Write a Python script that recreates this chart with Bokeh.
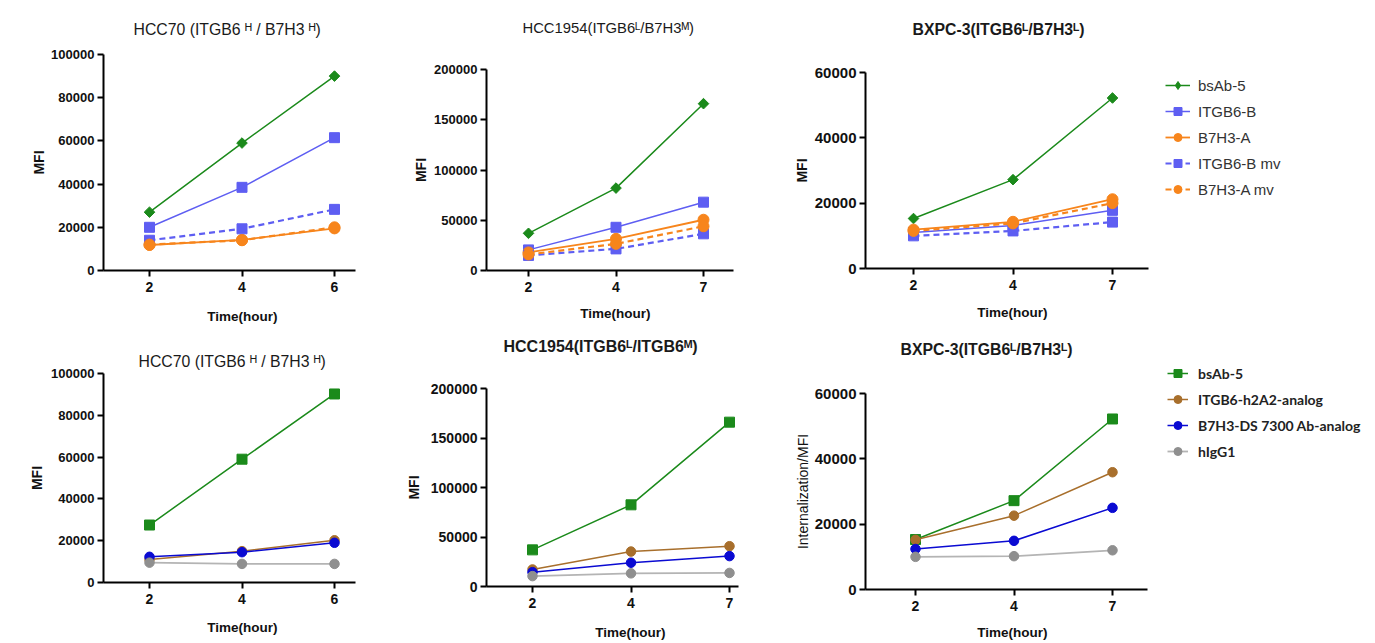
from bokeh.plotting import figure
from bokeh.models import (FixedTicker, NumeralTickFormatter, Range1d, Legend,
                          LegendItem, ColumnDataSource, Title)
from bokeh.layouts import row, column
from bokeh.embed import file_html
from bokeh.resources import INLINE
import math

# ---------------- data ----------------
time_labels_hcc70 = ["2", "4", "6"]
time_labels_hcc1954 = ["2", "4", "7"]
time_labels_bxpc3 = ["2", "4", "7"]

top_names = ["bsAb-5", "ITGB6-B", "B7H3-A", "ITGB6-B mv", "B7H3-A mv"]
bottom_names = ["bsAb-5", "ITGB6-h2A2-analog", "B7H3-DS 7300 Ab-analog", "hIgG1"]

# top-left: HCC70
hcc70_top_bsab5 = [27000, 59000, 90000]
hcc70_top_itgb6b = [20000, 38500, 61500]
hcc70_top_b7h3a = [11800, 14200, 19500]
hcc70_top_itgb6b_mv = [14000, 19300, 28300]
hcc70_top_b7h3a_mv = [12000, 14000, 20000]

# top-middle: HCC1954
hcc1954_top_bsab5 = [37000, 82000, 166000]
hcc1954_top_itgb6b = [20500, 43000, 68000]
hcc1954_top_b7h3a = [18000, 31500, 50500]
hcc1954_top_itgb6b_mv = [15000, 21500, 36500]
hcc1954_top_b7h3a_mv = [16000, 26500, 44000]

# top-right: BXPC-3
bxpc3_top_bsab5 = [15300, 27200, 52200]
bxpc3_top_itgb6b = [11000, 13200, 17800]
bxpc3_top_b7h3a = [11900, 14300, 21200]
bxpc3_top_itgb6b_mv = [10000, 11500, 14200]
bxpc3_top_b7h3a_mv = [11500, 13800, 20000]

# bottom-left: HCC70
hcc70_bot_bsab5 = [27500, 59000, 90200]
hcc70_bot_h2a2 = [11000, 15000, 20200]
hcc70_bot_ds7300 = [12300, 14500, 19000]
hcc70_bot_higg1 = [9500, 8900, 8900]

# bottom-middle: HCC1954
hcc1954_bot_bsab5 = [37000, 82500, 166000]
hcc1954_bot_h2a2 = [17200, 35300, 40700]
hcc1954_bot_ds7300 = [14500, 24000, 30700]
hcc1954_bot_higg1 = [10500, 13300, 13700]

# bottom-right: BXPC-3
bxpc3_bot_bsab5 = [15300, 27200, 52200]
bxpc3_bot_h2a2 = [15200, 22600, 35900]
bxpc3_bot_ds7300 = [12400, 14900, 25000]
bxpc3_bot_higg1 = [10000, 10200, 12000]

# ---------------- styles ----------------
GREEN = "#1b8a1b"
VIOLET = "#5e5ef2"
ORANGE = "#f7851c"
BROWN = "#a86f2c"
DBLUE = "#0a0ad2"
GRAY_M = "#8f8f8f"
GRAY_L = "#b4b4b4"

top_styles = [
    dict(color=GREEN, lcolor=GREEN, marker="square", size=7.5, angle=math.pi / 4,
         legend_marker="diamond", legend_size=11, dash="solid", lw=1.5),
    dict(color=VIOLET, lcolor=VIOLET, marker="square", size=10, angle=0, dash="solid", lw=1.5),
    dict(color=ORANGE, lcolor=ORANGE, marker="circle", size=11, angle=0, dash="solid", lw=1.8),
    dict(color=VIOLET, lcolor=VIOLET, marker="square", size=10, angle=0, dash="6 4", lw=2.2),
    dict(color=ORANGE, lcolor=ORANGE, marker="circle", size=11, angle=0, dash="6 4", lw=2.2),
]
bottom_styles = [
    dict(color=GREEN, lcolor=GREEN, marker="square", size=10, angle=0, dash="solid", lw=1.5),
    dict(color=BROWN, lcolor=BROWN, marker="circle", size=9.5, angle=0, dash="solid", lw=1.5),
    dict(color=DBLUE, lcolor=DBLUE, marker="circle", size=9.5, angle=0, dash="solid", lw=1.5),
    dict(color=GRAY_M, lcolor=GRAY_L, marker="circle", size=9.5, angle=0, dash="solid", lw=1.8),
]

FONT = "Liberation Sans"
XLABEL = "Time(hour)"
XLABEL_SIZE = 13.5
XLABEL_W = 5.222 * XLABEL_SIZE  # approx. rendered width of "Time(hour)" in bold


def spacer(gap):
    return Title(text=" ", text_font_size="1px", standoff=max(gap - 1, 0))


def panel(g, title, tstyle, tsize, tpos, xlabels, series, styles,
          ylabel, ylstyle, ylsize, ylstandoff, xlpos, ytop, ystep, ytsize):
    pxper = (g["tick2"] - g["tick0"]) / 2.0

    def px2x(px):
        return (px - g["tick0"]) / pxper

    p = figure(
        frame_width=g["fr"] - g["fl"], frame_height=g["y0"] - g["ft"],
        min_border_left=g["fl"] - g["fx"],
        min_border_right=g["fx"] + g["fw"] - g["fr"],
        min_border_top=g["ft"] - g["fy"],
        min_border_bottom=g["fy"] + g["fh"] - g["y0"],
        x_range=Range1d(px2x(g["fl"]), px2x(g["fr"])), y_range=Range1d(0, ytop),
        output_backend="svg", toolbar_location=None, title_location=None,
    )
    p.outline_line_color = None
    p.background_fill_color = "white"
    p.border_fill_color = "white"
    p.xgrid.grid_line_color = None
    p.ygrid.grid_line_color = None

    xs = list(range(len(xlabels)))
    for vals, st in zip(series, styles):
        src = ColumnDataSource(dict(x=xs, y=vals))
        p.line("x", "y", source=src, line_color=st["lcolor"],
               line_width=st["lw"], line_dash=st["dash"])
        p.scatter("x", "y", source=src, marker=st["marker"], size=st["size"],
                  angle=st["angle"], fill_color=st["color"], line_color=st["color"])

    for ax in (p.xaxis[0], p.yaxis[0]):
        ax.axis_line_width = 2
        ax.axis_line_color = "black"
        ax.major_tick_line_width = 2
        ax.major_tick_line_color = "black"
        ax.major_tick_out = 6
        ax.major_tick_in = 0
        ax.minor_tick_line_color = None
        ax.major_label_text_font = FONT
        ax.major_label_text_font_style = "bold"
        ax.major_label_text_color = "#111111"

    xa = p.xaxis[0]
    xa.ticker = FixedTicker(ticks=xs)
    xa.major_label_overrides = {i: lab for i, lab in enumerate(xlabels)}
    xa.major_label_text_font_size = "14px"
    xa.major_label_standoff = 5
    xa.bounds = (px2x(g["fl"]), px2x(g["axend"]))

    ya = p.yaxis[0]
    ya.ticker = FixedTicker(ticks=list(range(0, ytop + 1, ystep)))
    ya.formatter = NumeralTickFormatter(format="0")
    ya.major_label_text_font_size = f"{ytsize}px"
    ya.major_label_standoff = 3
    ya.axis_label = ylabel
    ya.axis_label_text_font = FONT
    ya.axis_label_text_font_style = ylstyle
    ya.axis_label_text_font_size = f"{ylsize}px"
    ya.axis_label_text_color = "#111111"
    ya.axis_label_standoff = ylstandoff

    # panel title: (left x, centre y) in page pixels
    t_bottom = tpos[1] + 0.575 * tsize
    p.add_layout(spacer(g["ft"] - t_bottom), "above")
    p.add_layout(Title(text=title, text_font=FONT, text_font_size=f"{tsize}px",
                       text_font_style=tstyle, text_color="#1a1a1a",
                       align="left", offset=tpos[0] - g["fl"], standoff=0,
                       vertical_align="bottom"), "above")

    # x axis title: (centre x, centre y) in page pixels
    x_top = xlpos[1] - 0.55 * XLABEL_SIZE
    axis_h = 6 + 5 + 16
    p.add_layout(spacer(x_top - (g["y0"] + axis_h)), "below")
    p.add_layout(Title(text=XLABEL, text_font=FONT, text_font_size=f"{XLABEL_SIZE}px",
                       text_font_style="bold", text_color="#111111",
                       align="left", offset=xlpos[0] - XLABEL_W / 2 - g["fl"],
                       standoff=0, vertical_align="top"), "below")
    return p


def legend_fig(w, h, names, series, styles, gx, top, spacing, gw, standoff,
               font, fstyle, fsize, color):
    # legend-only figure; its renderers use real data but lie outside its ranges
    p = figure(frame_width=w, frame_height=h, min_border=0,
               x_range=Range1d(100, 101), y_range=Range1d(0, 1),
               x_axis_type=None, y_axis_type=None,
               output_backend="svg", toolbar_location=None, title_location=None)
    p.outline_line_color = None
    p.background_fill_color = "white"
    p.border_fill_color = "white"
    p.grid.visible = False
    items = []
    for n, vals, st in zip(names, series, styles):
        src = ColumnDataSource(dict(x=list(range(len(vals))), y=vals))
        ln = p.line("x", "y", source=src, line_color=st["lcolor"], line_width=st["lw"],
                    line_dash=st["dash"])
        sc = p.scatter("x", "y", source=src, marker=st.get("legend_marker", st["marker"]),
                       size=st.get("legend_size", st["size"]),
                       fill_color=st["color"], line_color=st["color"])
        items.append(LegendItem(label=n, renderers=[ln, sc]))
    n = len(names)
    lg_h = n * 20 + (n - 1) * spacing
    lg = Legend(items=items, location=(gx, h - top - lg_h))
    lg.border_line_color = None
    lg.background_fill_alpha = 0
    lg.padding = 0
    lg.margin = 0
    lg.spacing = spacing
    lg.label_height = 20
    lg.glyph_height = 20
    lg.glyph_width = gw
    lg.label_standoff = standoff
    lg.label_text_font = font
    lg.label_text_font_style = fstyle
    lg.label_text_font_size = fsize
    lg.label_text_color = color
    p.add_layout(lg)
    return p


TOP_H = 330
BOT_H = 313

f1 = panel(dict(fx=0, fy=0, fw=400, fh=TOP_H, fl=103, fr=355, ft=54, y0=270,
                tick0=149, tick2=334, axend=355),
           "HCC70 (ITGB6 ᴴ / B7H3 ᴴ)", "normal", 15.8, (133, 30),
           time_labels_hcc70,
           [hcc70_top_bsab5, hcc70_top_itgb6b, hcc70_top_b7h3a, hcc70_top_itgb6b_mv, hcc70_top_b7h3a_mv],
           top_styles, "MFI", "bold", 14, 1, (242, 316), 100000, 20000, 13)

f4 = panel(dict(fx=0, fy=TOP_H, fw=400, fh=BOT_H, fl=103, fr=355, ft=373, y0=582,
                tick0=149, tick2=334, axend=355),
           "HCC70 (ITGB6 ᴴ / B7H3 ᴴ)", "normal", 15.8, (138, 362),
           time_labels_hcc70,
           [hcc70_bot_bsab5, hcc70_bot_h2a2, hcc70_bot_ds7300, hcc70_bot_higg1],
           bottom_styles, "MFI", "bold", 14, 3, (242, 627), 100000, 20000, 13)

f2 = panel(dict(fx=400, fy=0, fw=370, fh=TOP_H, fl=486, fr=738, ft=69, y0=270,
                tick0=528, tick2=703, axend=733),
           "HCC1954(ITGB6ᴸ/B7H3ᴹ)", "normal", 14.8, (522, 29),
           time_labels_hcc1954,
           [hcc1954_top_bsab5, hcc1954_top_itgb6b, hcc1954_top_b7h3a, hcc1954_top_itgb6b_mv, hcc1954_top_b7h3a_mv],
           top_styles, "MFI", "bold", 14, 2, (615, 313), 200000, 50000, 13)

f5 = panel(dict(fx=400, fy=TOP_H, fw=370, fh=BOT_H, fl=486, fr=738, ft=388, y0=586,
                tick0=532, tick2=729, axend=738),
           "HCC1954(ITGB6ᴸ/ITGB6ᴹ)", "bold", 16, (503, 347),
           time_labels_hcc1954,
           [hcc1954_bot_bsab5, hcc1954_bot_h2a2, hcc1954_bot_ds7300, hcc1954_bot_higg1],
           bottom_styles, "MFI", "bold", 14, 6, (630, 632), 200000, 50000, 14)

f3 = panel(dict(fx=770, fy=0, fw=380, fh=TOP_H, fl=865, fr=1148, ft=72, y0=268,
                tick0=913, tick2=1112, axend=1148),
           "BXPC-3(ITGB6ᴸ/B7H3ᴸ)", "bold", 15.8, (912, 30),
           time_labels_bxpc3,
           [bxpc3_top_bsab5, bxpc3_top_itgb6b, bxpc3_top_b7h3a, bxpc3_top_itgb6b_mv, bxpc3_top_b7h3a_mv],
           top_styles, "MFI", "bold", 14, 2, (1012, 312), 60000, 20000, 15)

f6 = panel(dict(fx=770, fy=TOP_H, fw=380, fh=BOT_H, fl=865, fr=1148, ft=393, y0=589,
                tick0=915, tick2=1112, axend=1147),
           "BXPC-3(ITGB6ᴸ/B7H3ᴸ)", "bold", 15.8, (900, 350),
           time_labels_bxpc3,
           [bxpc3_bot_bsab5, bxpc3_bot_h2a2, bxpc3_bot_ds7300, bxpc3_bot_higg1],
           bottom_styles, "Internalization/MFI", "normal", 14, 1, (1012, 632), 60000, 20000, 15)

LEG_X0 = 1150
LEG_W = 1375 - LEG_X0
leg_top = legend_fig(LEG_W, TOP_H, top_names,
                     [bxpc3_top_bsab5, bxpc3_top_itgb6b, bxpc3_top_b7h3a, bxpc3_top_itgb6b_mv, bxpc3_top_b7h3a_mv],
                     top_styles, gx=1165 - LEG_X0, top=75,
                     spacing=6, gw=25, standoff=8, font=FONT, fstyle="normal",
                     fsize="15px", color="#333333")
leg_bot = legend_fig(LEG_W, BOT_H, bottom_names,
                     [bxpc3_bot_bsab5, bxpc3_bot_h2a2, bxpc3_bot_ds7300, bxpc3_bot_higg1],
                     bottom_styles, gx=1167 - LEG_X0,
                     top=363 - TOP_H, spacing=6, gw=21, standoff=10, font="Lato",
                     fstyle="bold", fsize="14px", color="#222222")

layout = row(column(f1, f4), column(f2, f5), column(f3, f6), column(leg_top, leg_bot))

open("out.html", "w").write(file_html(layout, INLINE))
